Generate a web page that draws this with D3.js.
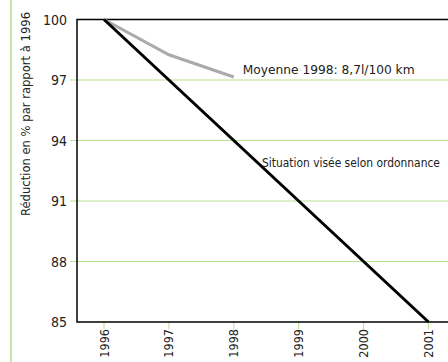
<!DOCTYPE html>
<html>
<head>
<meta charset="utf-8">
<script src="https://cdn.jsdelivr.net/npm/d3@7"></script>
<style>
  body { margin: 0; background: #fff; }
  svg { display: block; }
  text { font-family: "DejaVu Sans Condensed", "DejaVu Sans", sans-serif; font-stretch: condensed; fill: #222; }
</style>
</head>
<body>
<svg id="drawing_region"></svg>
<script>
const years = [1996, 1997, 1998, 1999, 2000, 2001];
const yTicks = [85, 88, 91, 94, 97, 100];
const targetYears = [1996, 2001];
const targetValues = [100, 85];
const actualYears = [1996, 1997, 1998];
const actualValues = [100, 98.25, 97.15];
const yTitle = "Réduction en % par rapport à 1996";
const actualLabel = "Moyenne 1998: 8,7l/100 km";
const targetLabel = "Situation visée selon ordonnance";

const width = 448, height = 362;
const margin = {top: 19.5, right: 0, bottom: 40, left: 77};
const green = "#b9df93";

const svg = d3.select('#drawing_region')
    .attr('width', width)
    .attr('height', height);

// squeeze a text horizontally so it fills the given width
function fitText(sel, x, y, w) {
    let natural = sel.node().getComputedTextLength();
    sel.attr('transform', `translate(${x},${y}) scale(${w / natural},1)`);
}

// left decorative rule
svg.append('line')
    .attr('x1', 11).attr('x2', 11)
    .attr('y1', 0).attr('y2', height)
    .attr('stroke', "#c6e6a6").attr('stroke-width', 2);

const xscale = d3.scaleLinear()
    .domain([1996, 2001])
    .range([104, 428.5]);

const yscale = d3.scaleLinear()
    .domain([85, 100])
    .range([322, margin.top]);

// grid lines
svg.append('g').selectAll('line')
    .data(yTicks.filter(d => d > 85 && d < 100))
    .join('line')
    .attr('x1', 70).attr('x2', width)
    .attr('y1', d => yscale(d)).attr('y2', d => yscale(d))
    .attr('stroke', green).attr('stroke-width', 1);

// x ticks
svg.append('g').selectAll('line')
    .data(years)
    .join('line')
    .attr('x1', d => xscale(d)).attr('x2', d => xscale(d))
    .attr('y1', 322).attr('y2', 329)
    .attr('stroke', green).attr('stroke-width', 1);

// frame: left axis, top and bottom
svg.append('path')
    .attr('d', `M${width},${yscale(100)}H${margin.left}V${yscale(85)}H${width}`)
    .attr('fill', 'none')
    .attr('stroke', '#000')
    .attr('stroke-width', 1.5);

// y tick labels
svg.append('g').selectAll('text')
    .data(yTicks)
    .join('text')
    .attr('x', 67)
    .attr('y', d => yscale(d))
    .attr('dy', '0.36em')
    .attr('text-anchor', 'end')
    .attr('font-size', 14)
    .text(d => d);

// x tick labels
svg.append('g').selectAll('text')
    .data(years)
    .join('text')
    .attr('transform', d => `translate(${xscale(d) + 4.5},329) rotate(-90)`)
    .attr('text-anchor', 'end')
    .attr('font-size', 12.5)
    .text(d => d);

// y title
svg.append('text')
    .attr('transform', `translate(30,114) rotate(-90)`)
    .attr('text-anchor', 'middle')
    .attr('font-size', 12.5)
    .attr('textLength', 204)
    .attr('lengthAdjust', 'spacingAndGlyphs')
    .text(yTitle);

const line = d3.line()
    .x(d => xscale(d[0]))
    .y(d => yscale(d[1]));

svg.append('path')
    .datum(actualYears.map((y, i) => [y, actualValues[i]]))
    .attr('d', line)
    .attr('fill', 'none')
    .attr('stroke', '#aaaaaa')
    .attr('stroke-width', 3);

svg.append('path')
    .datum(targetYears.map((y, i) => [y, targetValues[i]]))
    .attr('d', line)
    .attr('fill', 'none')
    .attr('stroke', '#000')
    .attr('stroke-width', 3);

const actualText = svg.append('text')
    .attr('font-size', 13)
    .text(actualLabel);
fitText(actualText, xscale(1998) + 9, yscale(97.15) - 3, 172);

const targetText = svg.append('text')
    .attr('font-size', 13)
    .text(targetLabel);
fitText(targetText, 262, 167, 178);
</script>
</body>
</html>
